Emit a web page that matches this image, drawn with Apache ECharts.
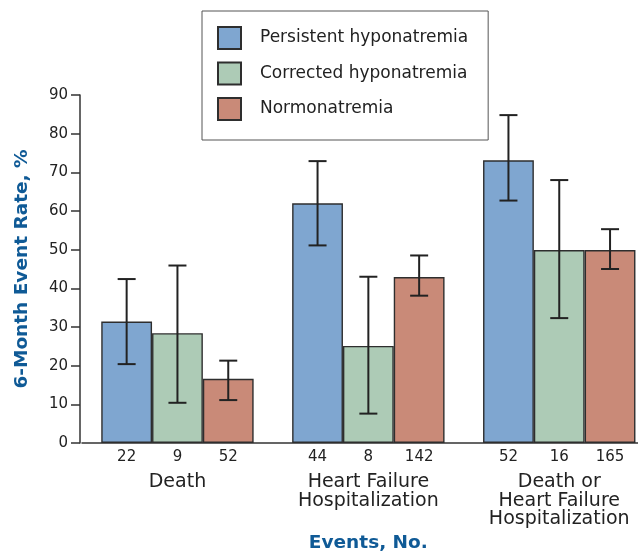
<!DOCTYPE html>
<html>
<head>
<meta charset="utf-8">
<script src="https://cdn.jsdelivr.net/npm/echarts@6/dist/echarts.min.js"></script>
<style>
html,body{margin:0;padding:0;background:#fff;}
#chart{width:638px;height:554px;}
</style>
</head>
<body>
<div id="chart"></div>
<script>
// ---- data ----
var groups = ['Death', 'Heart Failure\nHospitalization', 'Death or\nHeart Failure\nHospitalization'];
var seriesNames = ['Persistent hyponatremia', 'Corrected hyponatremia', 'Normonatremia'];

var persistentRate = [31.4, 62.0, 73.1];
var persistentLow  = [20.4, 51.1, 62.7];
var persistentHigh = [42.4, 72.9, 84.8];
var persistentCount = [22, 44, 52];

var correctedRate = [28.4, 25.1, 49.9];
var correctedLow  = [10.4, 7.6, 32.3];
var correctedHigh = [45.9, 43.0, 68.0];
var correctedCount = [9, 8, 16];

var normoRate = [16.6, 42.9, 49.9];
var normoLow  = [11.1, 38.1, 45.0];
var normoHigh = [21.3, 48.5, 55.3];
var normoCount = [52, 142, 165];

var yTicks = [0, 10, 20, 30, 40, 50, 60, 70, 80, 90];

// ---- styling ----
var FONT = 'DejaVu Sans';
var BLUE_TITLE = '#0f5a96';
var colors = ['#7fa6d0', '#adcbb6', '#c98a78'];
var BAR_W = 50.8;

var rates = [persistentRate, correctedRate, normoRate];
var lows = [persistentLow, correctedLow, normoLow];
var highs = [persistentHigh, correctedHigh, normoHigh];
var counts = [persistentCount, correctedCount, normoCount];

var chart = echarts.init(document.getElementById('chart'), null, {renderer: 'canvas'});

var series = [];
seriesNames.forEach(function (name, si) {
  series.push({
    name: name,
    type: 'bar',
    barWidth: BAR_W,
    barGap: '0%',
    data: rates[si],
    itemStyle: {color: colors[si], borderColor: '#2e2e2e', borderWidth: 1.4},
    label: {
      show: true,
      position: 'bottom',
      distance: 7,
      fontFamily: FONT,
      fontSize: 15,
      color: '#222',
      formatter: function (p) { return String(counts[si][p.dataIndex]); }
    },
    emphasis: {disabled: true},
    z: 2
  });
});
seriesNames.forEach(function (name, si) {
  var d = groups.map(function (g, i) { return [i, lows[si][i], highs[si][i]]; });
  series.push({
    name: 'err' + si,
    type: 'custom',
    data: d,
    z: 5,
    silent: true,
    clip: false,
    renderItem: function (params, api) {
      var idx = api.value(0);
      var off = (si - 1) * BAR_W;
      var lo = api.coord([idx, api.value(1)]);
      var hi = api.coord([idx, api.value(2)]);
      var x = lo[0] + off;
      var st = {stroke: '#222', lineWidth: 2};
      var cap = 9;
      return {
        type: 'group',
        children: [
          {type: 'line', shape: {x1: x, y1: lo[1], x2: x, y2: hi[1]}, style: st},
          {type: 'line', shape: {x1: x - cap, y1: lo[1], x2: x + cap, y2: lo[1]}, style: st},
          {type: 'line', shape: {x1: x - cap, y1: hi[1], x2: x + cap, y2: hi[1]}, style: st}
        ]
      };
    }
  });
});

chart.setOption({
  animation: false,
  backgroundColor: '#fff',
  grid: {left: 82, top: 95, width: 572.7, height: 348, containLabel: false, outerBoundsMode: 'none'},
  legend: {
    data: seriesNames,
    orient: 'vertical',
    left: 202,
    top: 11,
    itemWidth: 23,
    itemHeight: 22,
    itemGap: 11.5,
    padding: [15, 20, 19, 15],
    borderColor: '#555',
    borderWidth: 1,
    icon: 'rect',
    selectedMode: false,
    textStyle: {fontFamily: FONT, fontSize: 17, color: '#222', padding: [0, 0, 0, 14]}
  },
  xAxis: {
    type: 'category',
    data: groups,
    axisLine: {lineStyle: {color: '#333', width: 1.5}},
    axisTick: {show: false},
    axisLabel: {fontFamily: FONT, fontSize: 19, color: '#222', margin: 30, lineHeight: 18.5, interval: 0},
    name: 'Events, No.',
    nameLocation: 'middle',
    nameGap: 88,
    nameTextStyle: {fontFamily: FONT, fontSize: 18.5, fontWeight: 'bold', color: BLUE_TITLE}
  },
  yAxis: {
    type: 'value',
    min: yTicks[0],
    max: yTicks[yTicks.length - 1],
    interval: yTicks[1] - yTicks[0],
    offset: 2,
    axisLine: {show: true, lineStyle: {color: '#333', width: 1.5}},
    axisTick: {show: true, length: 9, lineStyle: {color: '#333', width: 1.5}},
    axisLabel: {fontFamily: FONT, fontSize: 15, color: '#222', margin: 12},
    splitLine: {show: false},
    name: '6-Month Event Rate, %',
    nameLocation: 'middle',
    nameRotate: 90,
    nameGap: 48,
    nameTextStyle: {fontFamily: FONT, fontSize: 18.5, fontWeight: 'bold', color: BLUE_TITLE}
  },
  series: series
});
</script>
</body>
</html>
